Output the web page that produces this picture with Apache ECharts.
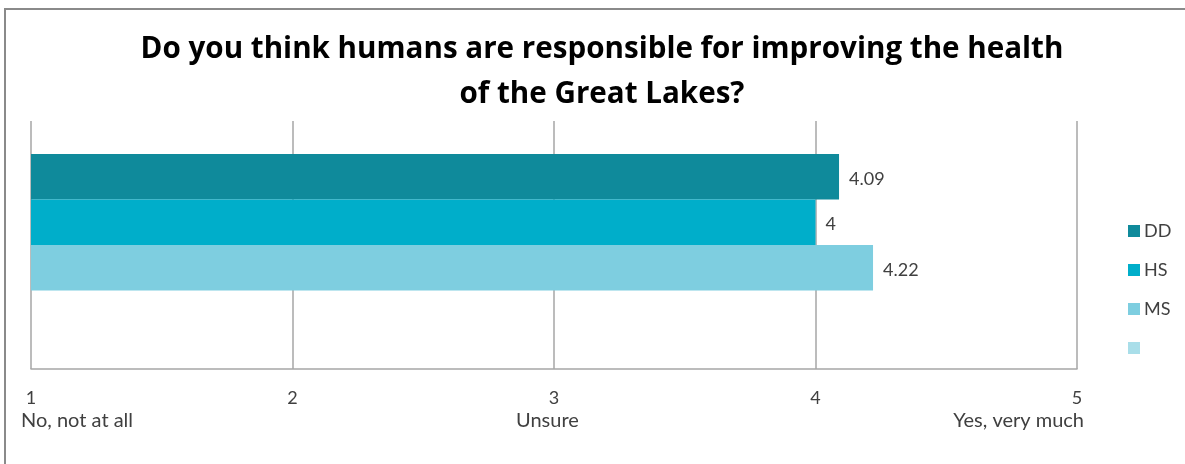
<!DOCTYPE html>
<html>
<head>
<meta charset="utf-8">
<script src="https://cdn.jsdelivr.net/npm/echarts@6/dist/echarts.min.js"></script>
<style>
  html, body { margin: 0; padding: 0; background: #fff; }
  #chart { width: 1185px; height: 464px; }
</style>
</head>
<body>
<div id="chart"></div>
<script>
// Survey question and answer scale
const titleText = 'Do you think humans are responsible for improving the health\nof the Great Lakes?';
const categories = ['Responsibility'];
const seriesNames = ['DD', 'HS', 'MS', ' '];
const seriesValues = [[4.09], [4.00], [4.22], [null]];
const seriesColors = ['#0f8a9b', '#00aeca', '#7ecee0', '#a9dee9'];
const scaleTicks = [1, 2, 3, 4, 5];
const scaleWords = { 1: 'No, not at all', 3: 'Unsure', 5: 'Yes, very much' };

const FONT = 'Lato, "Open Sans", sans-serif';
const TITLE_FONT = '"Open Sans", Lato, sans-serif';
const TEXT = '#404040';

const chart = echarts.init(document.getElementById('chart'), null, { renderer: 'canvas' });

const series = seriesNames.map((name, i) => ({
  name,
  type: 'bar',
  data: seriesValues[i],
  barGap: '0%',
  barCategoryGap: '26.7%',
  itemStyle: { color: seriesColors[i] },
  label: {
    show: seriesValues[i][0] != null,
    position: 'right',
    distance: 10,
    offset: [0, 2],
    fontFamily: FONT,
    fontSize: 18,
    color: TEXT,
    formatter: p => String(p.value)
  }
}));

chart.setOption({
  animation: false,
  title: {
    text: titleText,
    left: 597,
    top: 22,
    textAlign: 'center',
    textStyle: {
      fontFamily: TITLE_FONT,
      fontWeight: 'bold',
      fontSize: 29.6,
      lineHeight: 45,
      color: '#000'
    }
  },
  legend: {
    orient: 'vertical',
    left: 1123,
    top: 217,
    icon: 'rect',
    itemWidth: 12,
    itemHeight: 12,
    itemGap: 21,
    itemStyle: { borderWidth: 0 },
    textStyle: { fontFamily: FONT, fontSize: 18, color: TEXT, lineHeight: 18, padding: [0, 0, 0, -1] },
    data: seriesNames
  },
  grid: { left: 31, right: 108, top: 121, bottom: 95, containLabel: false },
  xAxis: {
    type: 'value',
    min: scaleTicks[0],
    max: scaleTicks[scaleTicks.length - 1],
    interval: 1,
    axisLine: { show: true, lineStyle: { color: '#a6a6a6', width: 1.5 } },
    axisTick: { show: false },
    splitLine: { show: true, lineStyle: { color: '#a6a6a6', width: 1.5 } },
    axisLabel: {
      margin: 20,
      fontFamily: FONT,
      fontSize: 18,
      color: TEXT
    }
  },
  yAxis: {
    type: 'category',
    data: categories,
    inverse: true,
    axisLine: { show: false },
    axisTick: { show: false },
    axisLabel: { show: false }
  },
  series,
  graphic: [
    {
      type: 'rect',
      silent: true,
      shape: { x: 5, y: 9, width: 1300, height: 600 },
      style: { fill: 'none', stroke: '#8a8a8a', lineWidth: 2 }
    },
    {
      type: 'text', left: 21, top: 411,
      style: { text: scaleWords[1], fontFamily: FONT, fontSize: 20, fill: TEXT }
    },
    {
      type: 'text', left: 516, top: 411,
      style: { text: scaleWords[3], fontFamily: FONT, fontSize: 20, fill: TEXT }
    },
    {
      type: 'text', right: 1185 - 1084, top: 411,
      style: { text: scaleWords[5], fontFamily: FONT, fontSize: 20, fill: TEXT }
    }
  ]
});
</script>
</body>
</html>
